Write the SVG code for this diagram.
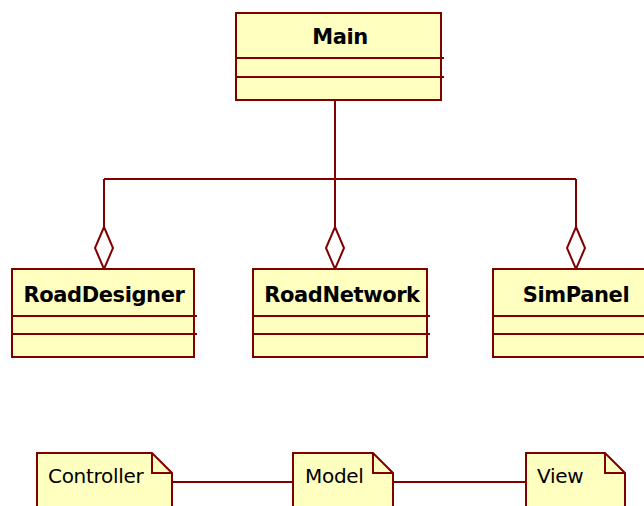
<svg xmlns="http://www.w3.org/2000/svg" width="644" height="506" viewBox="0 0 644 506">
<style>
.box{fill:#ffffc0;stroke:#800000;stroke-width:2}
.ln{fill:none;stroke:#800000;stroke-width:2}
.dia{fill:#fff;stroke:#800000;stroke-width:2}
.cls{font-family:"DejaVu Sans",sans-serif;font-weight:bold;font-size:21px;letter-spacing:-0.4px;fill:#000;text-anchor:middle}
.nt{font-family:"DejaVu Sans",sans-serif;font-size:20px;letter-spacing:-0.3px;fill:#000}
</style>
<rect width="644" height="506" fill="#fff"/>
<g id="connectors">
<path class="ln" d="M335 100 V179 M104 179 H576 M104 179 V227 M335 179 V227 M576 179 V227"/>
<path class="dia" d="M104 227 L113 248 L104 269 L95 248 Z"/>
<path class="dia" d="M335 227 L344 248 L335 269 L326 248 Z"/>
<path class="dia" d="M576 227 L585 248 L576 269 L567 248 Z"/>
<path class="ln" d="M172 482 H293 M393 482 H526"/>
</g>
<g id="Main">
<rect class="box" x="236" y="13" width="205" height="87"/>
<path class="ln" d="M236 58 H444 M236 77 H444"/>
<text class="cls" x="340" y="44">Main</text>
</g>
<g id="RoadDesigner">
<rect class="box" x="12" y="269" width="182" height="88"/>
<path class="ln" d="M12 316 H197 M12 334 H197"/>
<text class="cls" x="104" y="302">RoadDesigner</text>
</g>
<g id="RoadNetwork">
<rect class="box" x="253" y="269" width="174" height="88"/>
<path class="ln" d="M253 316 H430 M253 334 H430"/>
<text class="cls" x="342" y="302">RoadNetwork</text>
</g>
<g id="SimPanel">
<rect class="box" x="493" y="269" width="166" height="88"/>
<path class="ln" d="M493 316 H662 M493 334 H662"/>
<text class="cls" x="576" y="302">SimPanel</text>
</g>
<g id="Controller">
<path class="box" d="M37 520 V453 H152 L172 473 V520"/>
<path class="ln" d="M152 453 V473 H172"/>
<text class="nt" x="48" y="483">Controller</text>
</g>
<g id="Model">
<path class="box" d="M293 520 V453 H373 L393 473 V520"/>
<path class="ln" d="M373 453 V473 H393"/>
<text class="nt" x="305" y="483">Model</text>
</g>
<g id="View">
<path class="box" d="M526 520 V453 H605 L625 473 V520"/>
<path class="ln" d="M605 453 V473 H625"/>
<text class="nt" x="537" y="483">View</text>
</g>
</svg>
